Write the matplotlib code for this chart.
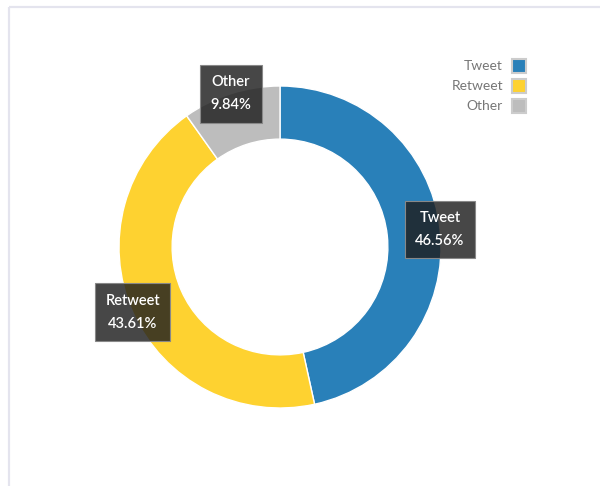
import numpy as np
import matplotlib.pyplot as plt
from matplotlib.patches import Rectangle

# tweet type breakdown
labels = ["Tweet", "Retweet", "Other"]
shares = [46.56, 43.61, 9.84]
colors = ["#2980b9", "#fed230", "#bdbdbd"]

plt.rcParams['font.family'] = ['Lato', 'DejaVu Sans']

fig = plt.figure(figsize=(6, 4.86), dpi=100)
ax = fig.add_axes([0, 0, 1, 1])

# panel border (left + top)
ax.plot([9, 9], [0, 479], color="#e4e4ee", lw=1.6, solid_capstyle='butt')
ax.plot([9, 600], [479, 479], color="#e4e4ee", lw=1.6, solid_capstyle='butt')

cx, cy, R = 280, 239, 161
ax.pie(shares, colors=colors, startangle=90, counterclock=False,
       center=(cx, cy), radius=R, frame=True,
       wedgeprops=dict(width=R * 0.33, edgecolor='white', linewidth=1))
ax.set_xlim(0, 600)
ax.set_ylim(0, 486)
ax.set_aspect('equal')
ax.axis('off')

# value labels sit on the outer edge at each slice's mid angle
total = sum(shares)
start = 90.0
for lab, v in zip(labels, shares):
    mid = start - v / total * 360 / 2
    start -= v / total * 360
    x = cx + R * np.cos(np.radians(mid))
    y = cy + R * np.sin(np.radians(mid))
    ax.text(x, y, f"{lab}\n{v:.2f}%", ha='center', va='center', color='white',
            fontsize=10.5, fontweight='semibold', linespacing=1.85, zorder=5,
            bbox=dict(boxstyle='square,pad=0.7', fc=(0.12, 0.12, 0.12, 0.82),
                      ec='#888888', lw=0.8))

# legend: text on the left, swatch on the right
for i, (lab, c) in enumerate(zip(labels, colors)):
    y = 420 - i * 20
    ax.text(503, y, lab, ha='right', va='center', fontsize=10, color='#777777')
    ax.add_patch(Rectangle((512, y - 7), 14, 14, fc=c, ec='#cccccc', lw=1.5))

fig.savefig("out.png", dpi=100)
